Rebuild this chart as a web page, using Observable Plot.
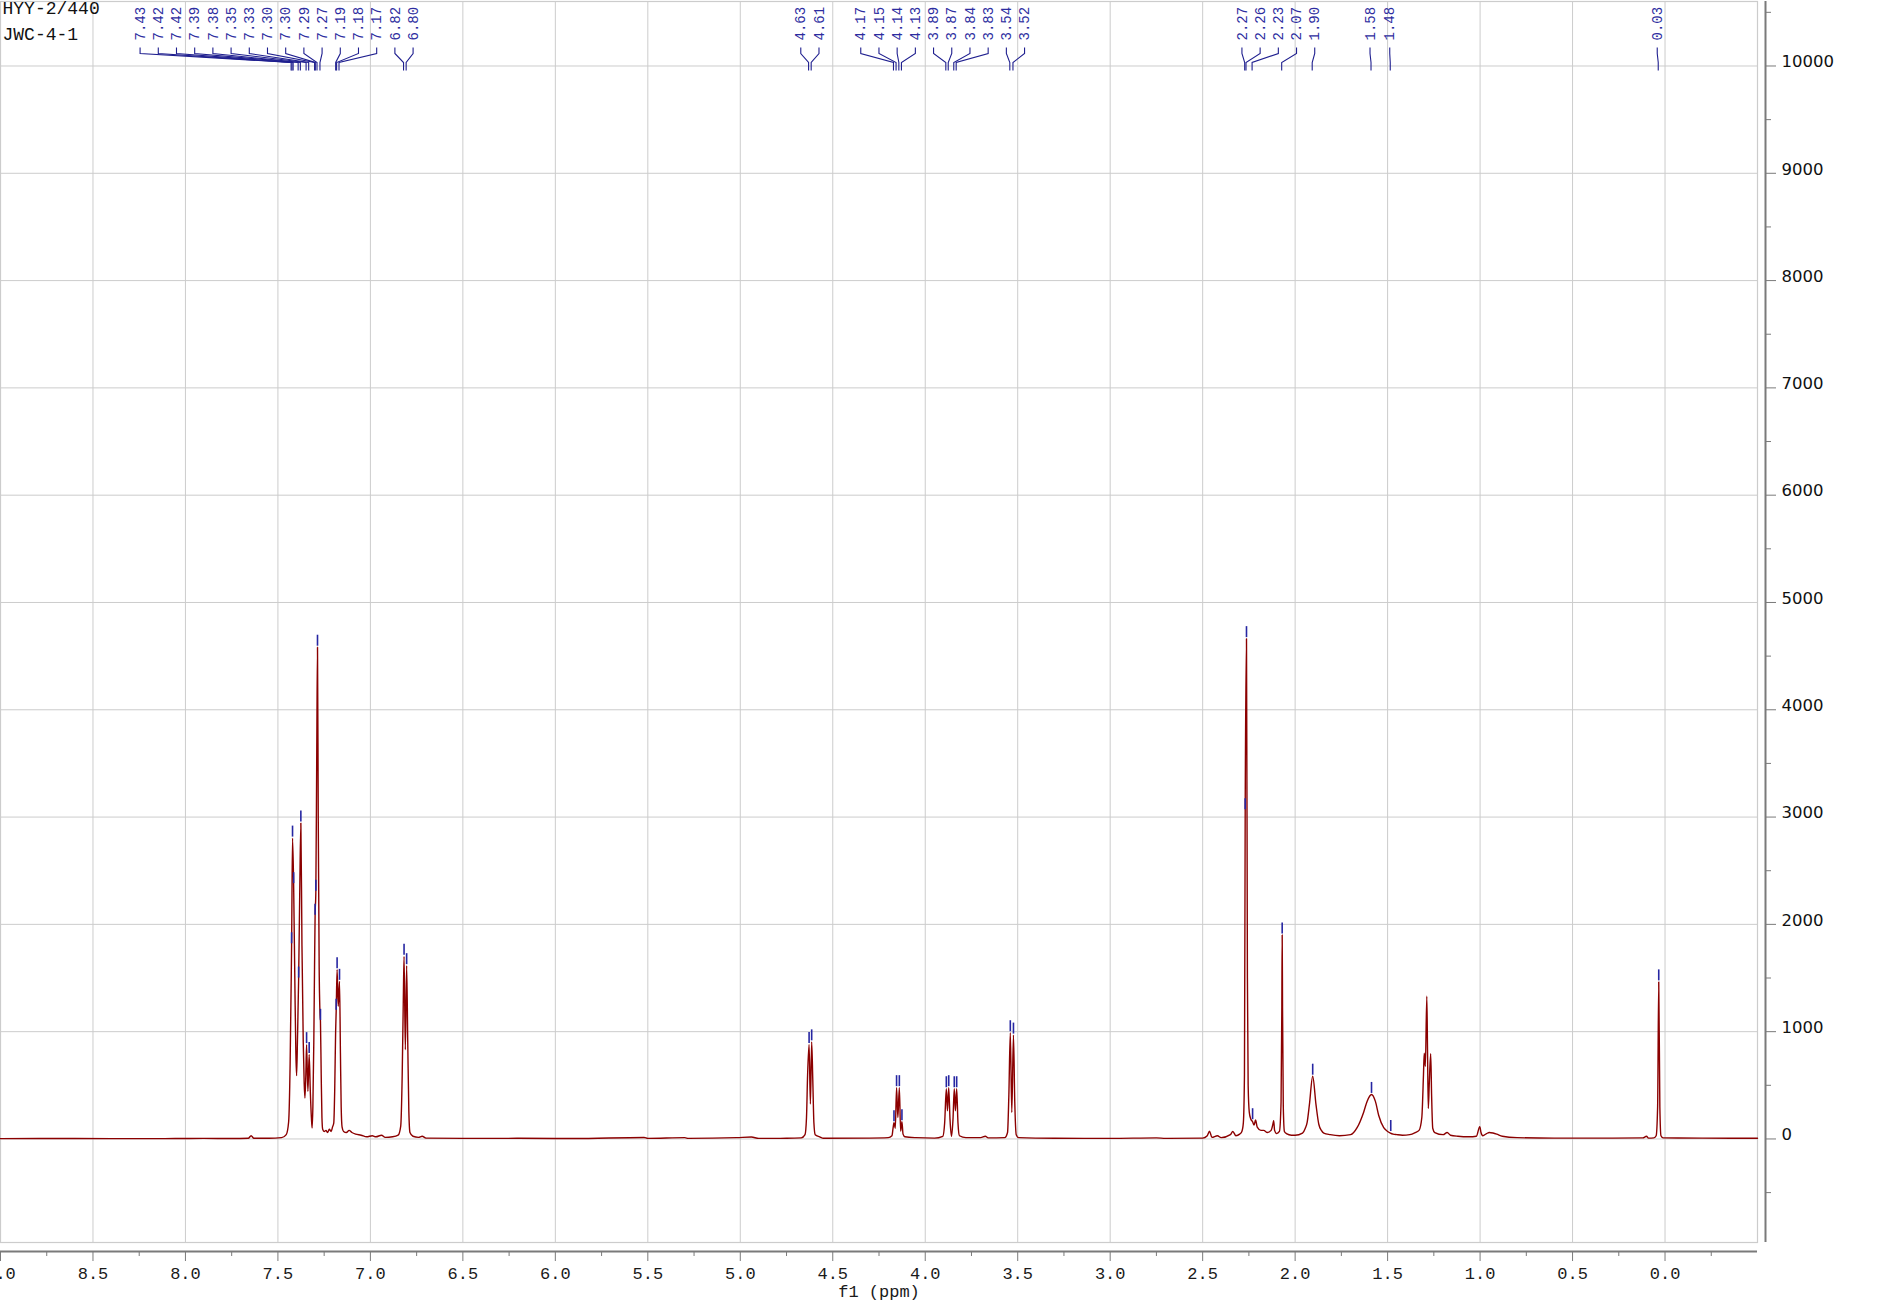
<!DOCTYPE html>
<html>
<head>
<meta charset="utf-8">
<script src="https://cdn.jsdelivr.net/npm/d3@7"></script>
<script src="https://cdn.jsdelivr.net/npm/@observablehq/plot@0.6"></script>
<style>
html, body { margin: 0; padding: 0; background: #fff; }
#chart { width: 1882px; height: 1313px; overflow: hidden; }
</style>
</head>
<body>
<div id="chart"></div>
<script>
// ---------- texts ----------
const sampleName = "HYY-2/440";
const sampleId = "JWC-4-1";
const xLabel = "f1 (ppm)";

// ---------- tick values ----------
const xTickValues = [9.0, 8.5, 8.0, 7.5, 7.0, 6.5, 6.0, 5.5, 5.0, 4.5, 4.0, 3.5, 3.0, 2.5, 2.0, 1.5, 1.0, 0.5, 0.0];
const xMinorTicks = [8.75, 8.25, 7.75, 7.25, 6.75, 6.25, 5.75, 5.25, 4.75, 4.25, 3.75, 3.25, 2.75, 2.25, 1.75, 1.25, 0.75, 0.25, -0.25];
const xGridValues = [8.5, 8.0, 7.5, 7.0, 6.5, 6.0, 5.5, 5.0, 4.5, 4.0, 3.5, 3.0, 2.5, 2.0, 1.5, 1.0, 0.5, 0.0];
const yTickValues = [0, 1000, 2000, 3000, 4000, 5000, 6000, 7000, 8000, 9000, 10000];
const yMinorTicks = [-500, 500, 1500, 2500, 3500, 4500, 5500, 6500, 7500, 8500, 9500, 10500];

// ---------- spectrum trace ----------
const specPpm = [
  9.00, 8.60, 8.20, 7.90, 7.75, 7.66, 7.645, 7.63, 7.55, 7.48, 7.455, 7.442, 7.434, 7.428,
  7.426, 7.421, 7.415, 7.408, 7.403, 7.399, 7.394, 7.388, 7.382, 7.376, 7.370, 7.363, 7.358, 7.354,
  7.349, 7.345, 7.338, 7.331, 7.325, 7.319, 7.315, 7.311, 7.306, 7.302, 7.299, 7.295, 7.290, 7.286,
  7.282, 7.277, 7.272, 7.270, 7.266, 7.262, 7.258, 7.250, 7.240, 7.232, 7.222, 7.212, 7.205, 7.198,
  7.193, 7.188, 7.185, 7.180, 7.174, 7.167, 7.162, 7.158, 7.153, 7.145, 7.130, 7.115, 7.100, 7.080,
  7.050, 7.020, 6.990, 6.970, 6.940, 6.920, 6.880, 6.850, 6.836, 6.828, 6.822, 6.818, 6.811, 6.804,
  6.798, 6.792, 6.786, 6.770, 6.740, 6.720, 6.700, 6.500, 6.200, 5.900, 5.520, 5.500, 5.300, 5.280,
  5.020, 4.940, 4.900, 4.750, 4.670, 4.650, 4.642, 4.636, 4.628, 4.621, 4.614, 4.608, 4.602, 4.595,
  4.571, 4.550, 4.300, 4.200, 4.180, 4.174, 4.169, 4.162, 4.155, 4.148, 4.140, 4.133, 4.126, 4.120,
  4.110, 4.050, 3.950, 3.905, 3.895, 3.886, 3.880, 3.873, 3.866, 3.858, 3.850, 3.843, 3.837, 3.830,
  3.823, 3.815, 3.780, 3.700, 3.675, 3.660, 3.570, 3.555, 3.548, 3.540, 3.532, 3.523, 3.516, 3.508,
  3.495, 3.300, 3.000, 2.750, 2.700, 2.500, 2.475, 2.463, 2.450, 2.420, 2.400, 2.350, 2.337, 2.320,
  2.300, 2.288, 2.280, 2.274, 2.270, 2.263, 2.258, 2.254, 2.248, 2.240, 2.230, 2.222, 2.214, 2.205,
  2.185, 2.170, 2.150, 2.130, 2.120, 2.116, 2.111, 2.100, 2.085, 2.076, 2.072, 2.070, 2.068, 2.064,
  2.058, 2.047, 2.020, 2.000, 1.960, 1.945, 1.935, 1.923, 1.905, 1.887, 1.872, 1.858, 1.845, 1.810,
  1.760, 1.700, 1.665, 1.629, 1.611, 1.587, 1.566, 1.548, 1.521, 1.500, 1.485, 1.470, 1.450, 1.420,
  1.380, 1.350, 1.330, 1.315, 1.306, 1.302, 1.296, 1.288, 1.284, 1.280, 1.275, 1.267, 1.262, 1.256,
  1.245, 1.200, 1.178, 1.160, 1.120, 1.060, 1.020, 1.0016, 0.995, 0.985, 0.965, 0.950, 0.930, 0.910,
  0.880, 0.800, 0.600, 0.300, 0.120, 0.100, 0.090, 0.060, 0.048, 0.040, 0.034, 0.028, 0.022, 0.010,
  -0.200, -0.500
];
const specIntensity = [
  3, 4, 3, 5, 4, 6, 30, 6, 6, 12, 40, 160, 700, 1500,
  1810, 2804, 2370, 1400, 800, 590, 950, 1490, 2300, 2944, 1800, 900, 520, 382,
  600, 879, 444, 786, 450, 200, 102, 300, 900, 1600, 2075, 2300, 3600, 4583,
  3000, 1600, 1150, 1096, 600, 200, 90, 70, 80, 60, 90, 70, 110, 150,
  450, 1000, 1190, 1578, 1236, 1469, 800, 300, 110, 70, 60, 80, 60, 45,
  35, 20, 30, 20, 35, 15, 20, 35, 120, 600, 1300, 1702, 832, 1615,
  900, 250, 60, 25, 15, 25, 8, 5, 6, 4, 14, 5, 12, 5,
  12, 18, 5, 6, 10, 40, 200, 600, 880, 326, 905, 550, 150, 40,
  20, 6, 8, 12, 30, 100, 152, 100, 478, 200, 478, 73, 161, 45,
  20, 12, 8, 25, 150, 468, 263, 478, 180, 25, 180, 468, 263, 468,
  150, 30, 12, 12, 25, 10, 12, 60, 400, 990, 247, 968, 350, 40,
  12, 6, 5, 10, 5, 8, 30, 72, 15, 30, 12, 40, 70, 30,
  45, 70, 150, 600, 3060, 4663, 1500, 500, 250, 186, 160, 130, 176, 110,
  80, 80, 60, 80, 140, 170, 80, 50, 70, 350, 1200, 1902, 1200, 300,
  70, 50, 35, 35, 55, 100, 154, 317, 585, 317, 137, 80, 55, 40,
  30, 40, 105, 252, 350, 415, 350, 219, 105, 70, 55, 45, 40, 35,
  40, 60, 80, 200, 600, 800, 676, 1330, 800, 284, 500, 794, 400, 100,
  60, 40, 60, 35, 25, 20, 25, 115, 60, 30, 50, 60, 55, 45,
  25, 12, 8, 8, 10, 25, 8, 10, 30, 300, 1464, 300, 30, 10,
  8, 6
];

// ---------- picked peaks ----------
const peakLabel = [
  "7.43", "7.42", "7.42", "7.39", "7.38", "7.35", "7.33", "7.30", "7.30", "7.29", "7.27", "7.19", "7.18", "7.17", "6.82", "6.80",
  "4.63", "4.61", "4.17", "4.15", "4.14", "4.13", "3.89", "3.87", "3.84", "3.83", "3.54", "3.52",
  "2.27", "2.26", "2.23", "2.07", "1.90", "1.58", "1.48", "0.03"
];
const peakPpm = [
  7.426, 7.421, 7.415, 7.388, 7.376, 7.345, 7.331, 7.299, 7.295, 7.286, 7.270, 7.185, 7.180, 7.167, 6.818, 6.804,
  4.628, 4.614, 4.169, 4.155, 4.140, 4.126, 3.886, 3.873, 3.843, 3.830, 3.540, 3.523,
  2.270, 2.263, 2.230, 2.070, 1.905, 1.587, 1.483, 0.034
];
const peakHeight = [
  1810, 2804, 2370, 1490, 2944, 879, 786, 2075, 2300, 4583, 1096, 1190, 1578, 1469, 1702, 1615,
  880, 905, 152, 478, 478, 161, 468, 478, 468, 468, 990, 968,
  3060, 4663, 170, 1902, 585, 415, 60, 1464
];

// label groups (indices into the peak list) and their sideways shift
const labelGroups = [
  {from: 0, to: 15, shift: -47},
  {from: 16, to: 17, shift: 0},
  {from: 18, to: 27, shift: 1},
  {from: 28, to: 32, shift: 11},
  {from: 33, to: 33, shift: -1},
  {from: 34, to: 34, shift: -0.5},
  {from: 35, to: 35, shift: -1}
];

// ---------- build ----------
const xDomain = [9.0, -0.5];
const yDomain = [-965, 10601];
const spec = specPpm.map((p, i) => ({ppm: p, intensity: specIntensity[i]}));
const peaks = peakPpm.map((p, i) => ({ppm: p, height: peakHeight[i], label: peakLabel[i]}));

const tickSymbol = { draw(ctx) { ctx.moveTo(0, -1.5); ctx.lineTo(0, -12.5); } };

const axisGray = "#7a7a7a";
const gridGray = "#cccccc";

const plot = Plot.plot({
  width: 1882,
  height: 1313,
  marginLeft: 0,
  marginRight: 125,
  marginTop: 1,
  marginBottom: 71,
  style: {background: "#fff"},
  x: {domain: xDomain, label: null},
  y: {domain: yDomain, label: null},
  marks: [
    Plot.gridX({ticks: xGridValues, stroke: gridGray, strokeOpacity: 1, strokeWidth: 1}),
    Plot.gridY({ticks: yTickValues, stroke: gridGray, strokeOpacity: 1, strokeWidth: 1}),
    Plot.frame({stroke: gridGray, strokeWidth: 1.2}),
    Plot.line(spec, {x: "ppm", y: "intensity", stroke: "#8b0000", strokeWidth: 1.4, curve: "monotone-x"}),
    Plot.dot(peaks, {x: "ppm", y: "height", symbol: tickSymbol, stroke: "#2626a2", fill: "none", strokeWidth: 1.6}),
    // bottom axis
    Plot.ruleY([yDomain[0]], {dy: 9, stroke: axisGray, strokeWidth: 2}),
    Plot.axisX({ticks: xTickValues, tickSize: 10, tickPadding: 5, dy: 9, stroke: axisGray, fill: "#1a1a1a",
      tickFormat: d => d.toFixed(1), fontFamily: "Liberation Mono", fontSize: 17, label: null}),
    Plot.axisX({ticks: xMinorTicks, tickSize: 5, dy: 9, stroke: axisGray, fill: "none", label: null}),
    // right axis
    Plot.ruleX([xDomain[1]], {dx: 8, stroke: axisGray, strokeWidth: 2}),
    Plot.axisY({anchor: "right", ticks: yTickValues, tickSize: 10, dx: 8, stroke: axisGray, fill: "none", label: null}),
    Plot.axisY({anchor: "right", ticks: yMinorTicks, tickSize: 5, dx: 8, stroke: axisGray, fill: "none", label: null}),
    Plot.axisY({anchor: "right", ticks: yTickValues, tickSize: 0, tickPadding: 16, dx: 8, dy: -4, stroke: "none",
      fill: "#111", fontFamily: "DejaVu Sans", fontSize: 16.5, tickFormat: d => String(d), label: null}),
    // texts
    Plot.text([xLabel], {text: d => d, frameAnchor: "bottom", dy: 54, fontFamily: "Liberation Mono", fontSize: 17, fill: "#1a1a1a"}),
    Plot.text([sampleName], {text: d => d, frameAnchor: "top-left", dx: 2, dy: 0, lineAnchor: "top", textAnchor: "start",
      fontFamily: "Liberation Mono", fontSize: 18, fill: "#111"}),
    Plot.text([sampleId], {text: d => d, frameAnchor: "top-left", dx: 2, dy: 26, lineAnchor: "top", textAnchor: "start",
      fontFamily: "Liberation Mono", fontSize: 18, fill: "#111"})
  ]
});

// ---------- peak labels with leaders (positions from the plot's x scale) ----------
const xs = plot.scale("x");
const svg = d3.select(plot);
const gLab = svg.append("g").attr("class", "peak-labels");
const spacing = 18.2;
for (const grp of labelGroups) {
  const idx = d3.range(grp.from, grp.to + 1);
  const px = idx.map(i => xs.apply(peakPpm[i]));
  const center = d3.mean(px) + grp.shift;
  idx.forEach((i, k) => {
    const lx = center + (k - (idx.length - 1) / 2) * spacing;
    const p = px[k];
    gLab.append("path")
      .attr("d", `M${lx},47.5V53.5L${p},62.5V70.5`)
      .attr("fill", "none")
      .attr("stroke", "#1f1f8f")
      .attr("stroke-width", 1.1);
    gLab.append("text")
      .attr("transform", `translate(${lx + 4.7},40.5) rotate(-90)`)
      .attr("text-anchor", "start")
      .attr("font-family", "Liberation Mono")
      .attr("font-size", 14)
      .attr("fill", "#2d2da0")
      .text(peakLabel[i]);
  });
}

document.getElementById("chart").appendChild(plot);
</script>
</body>
</html>
